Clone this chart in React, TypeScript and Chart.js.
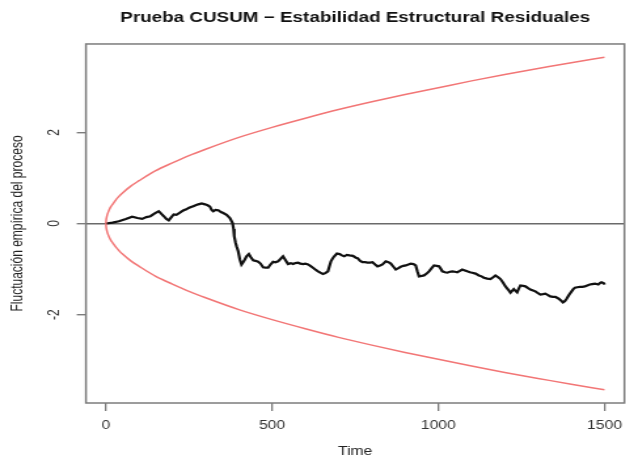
import React, { useEffect, useRef } from "react";
import { Chart, registerables } from "chart.js";

Chart.register(...registerables);

// ---- data ----
const TIME = [
  0, 20, 39, 60, 79, 95, 109, 122, 134, 147, 159, 167, 174, 182, 189, 197, 204, 212, 219, 227,
  234, 242, 249, 256, 263, 270, 278, 288, 298, 306, 313, 318, 323, 330, 338, 346, 353, 363, 373, 378,
  381, 384, 386, 390, 393, 398, 403, 408, 412, 418, 423, 430, 436, 443, 450, 458, 465, 473, 480, 488,
  495, 503, 510, 518, 525, 533, 540, 548, 556, 563, 570, 578, 585, 593, 600, 608, 615, 623, 630, 638,
  645, 653, 660, 668, 672, 677, 682, 687, 695, 703, 710, 717, 725, 733, 743, 752, 757, 765, 772, 780,
  787, 795, 802, 810, 817, 825, 832, 842, 850, 857, 865, 872, 880, 887, 895, 902, 910, 917, 925, 932,
  937, 942, 950, 957, 965, 972, 980, 987, 995, 1002, 1007, 1012, 1020, 1027, 1035, 1042, 1050, 1057, 1065, 1072,
  1080, 1087, 1095, 1102, 1112, 1122, 1130, 1137, 1147, 1157, 1165, 1172, 1180, 1187, 1195, 1202, 1210, 1217, 1222, 1227,
  1232, 1237, 1242, 1247, 1255, 1262, 1270, 1277, 1285, 1292, 1300, 1307, 1315, 1322, 1330, 1337, 1345, 1352, 1357, 1362,
  1369, 1375, 1381, 1386, 1393, 1401, 1406, 1411, 1418, 1426, 1433, 1441, 1448, 1456, 1463, 1471, 1476, 1481, 1486, 1491,
  1498, 1500,
];
const CUSUM = [
  0, 0.02, 0.05, 0.1, 0.15, 0.12, 0.1, 0.14, 0.16, 0.22, 0.27, 0.21, 0.16, 0.1, 0.07, 0.14, 0.2, 0.19, 0.22, 0.26,
  0.29, 0.31, 0.34, 0.36, 0.38, 0.4, 0.42, 0.44, 0.42, 0.4, 0.37, 0.3, 0.27, 0.3, 0.29, 0.25, 0.23, 0.19, 0.12, 0.05,
  0.01, -0.12, -0.28, -0.42, -0.5, -0.61, -0.79, -0.9, -0.86, -0.79, -0.72, -0.67, -0.74, -0.81, -0.82, -0.84, -0.88, -0.96, -0.97, -0.97,
  -0.9, -0.84, -0.85, -0.83, -0.78, -0.72, -0.8, -0.89, -0.87, -0.89, -0.87, -0.86, -0.88, -0.89, -0.88, -0.9, -0.93, -0.97, -1.01, -1.05,
  -1.08, -1.11, -1.09, -1.05, -0.95, -0.83, -0.77, -0.72, -0.66, -0.67, -0.7, -0.72, -0.69, -0.7, -0.71, -0.75, -0.76, -0.82, -0.85, -0.85,
  -0.86, -0.86, -0.85, -0.9, -0.94, -0.92, -0.9, -0.83, -0.85, -0.88, -0.95, -1.01, -0.98, -0.95, -0.93, -0.92, -0.9, -0.88, -0.89, -0.92,
  -1.05, -1.16, -1.15, -1.14, -1.1, -1.05, -0.98, -0.92, -0.93, -0.94, -0.99, -1.05, -1.07, -1.08, -1.06, -1.05, -1.06, -1.07, -1.04, -1.01,
  -1.03, -1.05, -1.07, -1.08, -1.1, -1.14, -1.16, -1.19, -1.21, -1.22, -1.18, -1.14, -1.18, -1.22, -1.3, -1.38, -1.45, -1.52, -1.48, -1.44,
  -1.48, -1.51, -1.43, -1.36, -1.37, -1.38, -1.42, -1.45, -1.47, -1.49, -1.53, -1.56, -1.55, -1.54, -1.57, -1.6, -1.61, -1.61, -1.63, -1.65,
  -1.69, -1.73, -1.7, -1.65, -1.57, -1.49, -1.44, -1.41, -1.4, -1.39, -1.39, -1.38, -1.36, -1.34, -1.33, -1.32, -1.33, -1.34, -1.31, -1.29,
  -1.31, -1.34,
];
const BOUND_TIME = [
  0, 1, 2, 3, 5, 7, 10, 15, 20, 30, 40, 50, 75, 100, 150, 200, 250, 300, 400, 500, 600, 700, 800, 900, 1000,
  1100, 1200, 1300, 1400, 1500,
];
const UPPER = [
  0, 0.09, 0.13, 0.16, 0.21, 0.25, 0.3, 0.37, 0.42, 0.52, 0.6, 0.67, 0.82, 0.94, 1.16, 1.33, 1.49, 1.63, 1.89, 2.11,
  2.31, 2.5, 2.67, 2.83, 2.98, 3.13, 3.27, 3.4, 3.53, 3.65,
];
const LOWER = [
  0, -0.09, -0.13, -0.16, -0.21, -0.25, -0.3, -0.37, -0.42, -0.52, -0.6, -0.67, -0.82, -0.94, -1.16, -1.33, -1.49, -1.63, -1.89, -2.11,
  -2.31, -2.5, -2.67, -2.83, -2.98, -3.13, -3.27, -3.4, -3.53, -3.65,
];
const X_TICKS = [0, 500, 1000, 1500];
const Y_TICKS = [-2, 0, 2];
const TITLE = "Prueba CUSUM \u2212 Estabilidad Estructural Residuales";
const X_LABEL = "Time";
const Y_LABEL = "Fluctuación empírica del proceso";

const STRETCH = 1.31;
const CW = 482;
const CH = 459;
const FONT = "'Liberation Sans', Arial, Helvetica, sans-serif";

// R-style box around the plot region
const boxPlugin = {
  id: "rbox",
  beforeDatasetsDraw(chart: any) {
    const { ctx, chartArea } = chart;
    ctx.save();
    ctx.strokeStyle = "#7c7c7c";
    ctx.lineWidth = 1.5;
    ctx.strokeRect(chartArea.left, chartArea.top, chartArea.right - chartArea.left, chartArea.bottom - chartArea.top);
    ctx.restore();
  },
};

// R-style y tick labels, parallel to the axis, placed from the y scale's own ticks
const yLabelPlugin = {
  id: "ylabels",
  afterDraw(chart: any) {
    const { ctx } = chart;
    const scale = chart.scales.y;
    ctx.save();
    ctx.fillStyle = "#333";
    ctx.font = `12px ${FONT}`;
    ctx.textAlign = "center";
    ctx.textBaseline = "middle";
    for (const t of scale.ticks) {
      const y = scale.getPixelForValue(t.value);
      ctx.save();
      ctx.translate(scale.right - 24.4, y);
      ctx.rotate(-Math.PI / 2);
      ctx.fillText(String(t.value), 0, 0);
      ctx.restore();
    }
    ctx.restore();
  },
};

export default function App() {
  const ref = useRef<HTMLCanvasElement | null>(null);
  useEffect(() => {
    if (!ref.current) return;
    const pts = (xs: number[], ys: number[]) => xs.map((x, i) => ({ x, y: ys[i] }));
    const chart = new Chart(ref.current, {
      type: "line",
      data: {
        datasets: [
          {
            data: pts(BOUND_TIME, UPPER),
            borderColor: "rgb(242,118,118)",
            borderWidth: 1.5,
            pointRadius: 0,
            cubicInterpolationMode: "monotone",
            fill: false,
          },
          {
            data: pts(BOUND_TIME, LOWER),
            borderColor: "rgb(242,118,118)",
            borderWidth: 1.5,
            pointRadius: 0,
            cubicInterpolationMode: "monotone",
            fill: false,
          },
          {
            data: pts(TIME, CUSUM),
            borderColor: "#111111",
            borderWidth: 2.2,
            pointRadius: 0,
            tension: 0,
            fill: false,
          },
        ],
      },
      options: {
        responsive: false,
        animation: false,
        events: [],
        layout: { padding: { left: 0, right: 2, top: 0, bottom: 0 } },
        plugins: {
          legend: { display: false },
          tooltip: { enabled: false },
          title: {
            display: true,
            fullSize: false,
            text: TITLE,
            color: "#111",
            font: { family: FONT, size: 14.4, weight: "bold" },
            padding: { top: 9, bottom: 17.7 },
          },
        },
        scales: {
          x: {
            type: "linear",
            min: -60,
            max: 1560,
            afterBuildTicks: (s: any) => {
              s.ticks = X_TICKS.map((v) => ({ value: v }));
            },
            afterFit: (s: any) => {
              s.height = 56;
            },
            grid: {
              drawOnChartArea: false,
              drawTicks: true,
              tickLength: 8,
              color: "#7c7c7c",
              lineWidth: 1.3,
            },
            border: { display: false },
            ticks: {
              padding: 7,
              color: "#333",
              font: { family: FONT, size: 12 },
              minRotation: 0,
              maxRotation: 0,
              callback: (v: any) => String(v),
            },
            title: {
              display: true,
              text: X_LABEL,
              color: "#222",
              font: { family: FONT, size: 12 },
              padding: { top: 0, bottom: 0 },
            },
          },
          y: {
            type: "linear",
            min: -3.94,
            max: 3.94,
            afterBuildTicks: (s: any) => {
              s.ticks = Y_TICKS.map((v) => ({ value: v }));
            },
            afterFit: (s: any) => {
              s.width = 65.6;
            },
            grid: {
              drawOnChartArea: true,
              drawTicks: true,
              tickLength: 7,
              color: (c: any) => (c.tick && c.tick.value === 0 ? "#6a6a6a" : "rgba(0,0,0,0)"),
              tickColor: "#7c7c7c",
              lineWidth: 1.4,
            },
            border: { display: false },
            ticks: {
              display: false,
              callback: (v: any) => String(v),
            },
            title: {
              display: true,
              text: Y_LABEL,
              color: "#222",
              font: { family: FONT, size: 12 },
              padding: { top: 6, bottom: 0 },
            },
          },
        },
      } as any,
      plugins: [boxPlugin, yLabelPlugin],
    });
    return () => chart.destroy();
  }, []);

  return (
    <div
      style={{
        position: "absolute",
        left: 0,
        top: 0,
        width: 626,
        height: 459,
        overflow: "hidden",
        background: "#fff",
      }}
    >
      <div style={{ width: CW, height: CH, transform: `scaleX(${STRETCH})`, transformOrigin: "0 0" }}>
        <canvas ref={ref} width={CW} height={CH} />
      </div>
    </div>
  );
}
